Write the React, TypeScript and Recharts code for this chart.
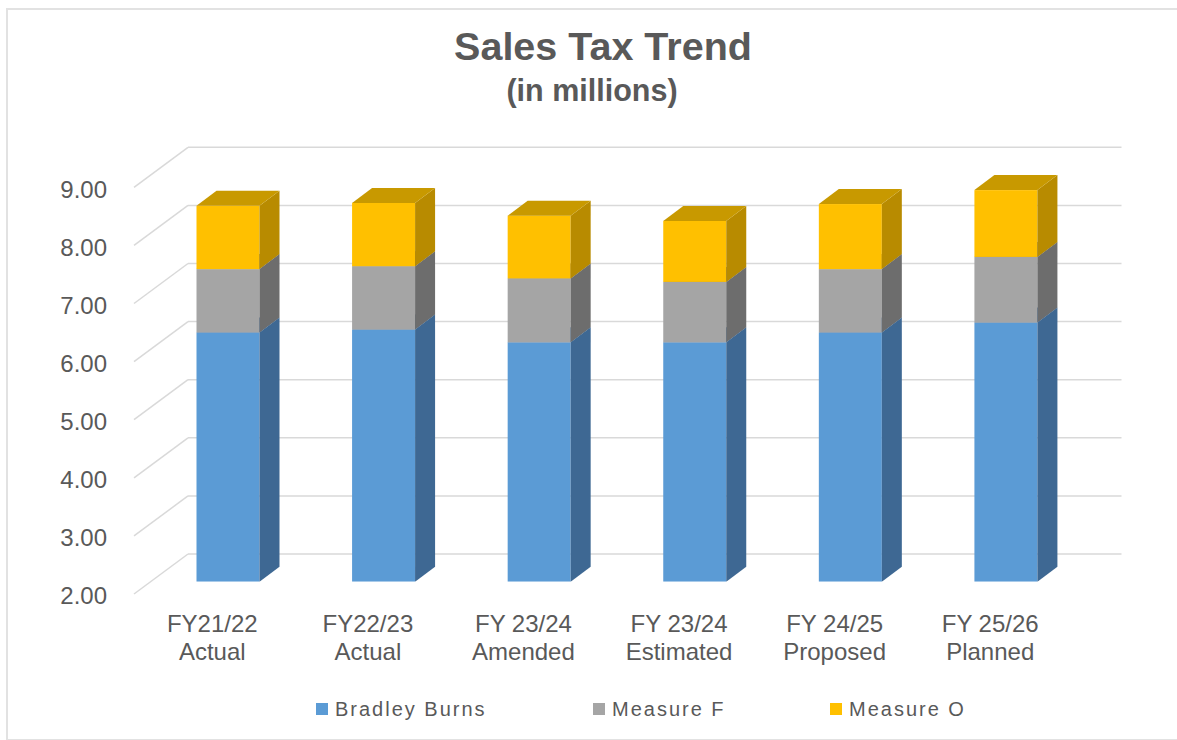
import React from 'react';
import { BarChart, Bar, XAxis, YAxis, CartesianGrid, Legend } from 'recharts';

// values (millions)
const fiscalYears = ['FY21/22', 'FY22/23', 'FY 23/24', 'FY 23/24', 'FY 24/25', 'FY 25/26'];
const stages = ['Actual', 'Actual', 'Amended', 'Estimated', 'Proposed', 'Planned'];
const bradleyBurns = [6.29, 6.34, 6.12, 6.12, 6.29, 6.46];
const measureF = [1.09, 1.09, 1.1, 1.04, 1.09, 1.13];
const measureO = [1.09, 1.09, 1.08, 1.05, 1.12, 1.15];
const yTicks = [2, 3, 4, 5, 6, 7, 8, 9];

const data = fiscalYears.map((fy, i) => ({
  name: fy,
  stage: stages[i],
  bb: bradleyBurns[i],
  mf: measureF[i],
  mo: measureO[i],
}));

const W = 1177;
const H = 740;
const FONT = '"Liberation Sans", Arial, sans-serif';
const TEXT = '#595959';
const GRID = '#D9D9D9';

// bar depth (3d look)
const DX = 20;
const DY = 15;
// floor / back wall offsets relative to the bar front plane
const FRONT = { dx: -16.5, dy: 12.3 };
const BACK = { dx: 37.5, dy: -27.7 };

const Bar3D = (props: any) => {
  const { x, y, width, height, fill, side, top, background } = props;
  if (width == null || height == null) return null;
  const floor = background ? background.y + background.height : y + height;
  const y2 = Math.min(y + height, floor);
  const x2 = x + width;
  return (
    <g>
      <rect x={x} y={y} width={width} height={Math.max(0, y2 - y)} fill={fill} />
      <polygon
        points={`${x2},${y2} ${x2 + DX},${y2 - DY} ${x2 + DX},${y - DY} ${x2},${y}`}
        fill={side}
      />
      <polygon points={`${x},${y} ${x + DX},${y - DY} ${x2 + DX},${y - DY} ${x2},${y}`} fill={top} />
    </g>
  );
};

const gridLine = (p: any) => {
  const { x1, x2, y1 } = p;
  return (
    <g key={p.key}>
      <line x1={x1 + FRONT.dx} y1={y1 + FRONT.dy} x2={x1 + BACK.dx} y2={y1 + BACK.dy} stroke={GRID} strokeWidth={1.5} />
      <line x1={x1 + BACK.dx} y1={y1 + BACK.dy} x2={x2 + BACK.dx} y2={y1 + BACK.dy} stroke={GRID} strokeWidth={1.5} />
    </g>
  );
};

const YTick = (p: any) => {
  const { x, y, payload } = p;
  return (
    <text x={x - 43.5} y={y + 22.5} textAnchor="end" fontFamily={FONT} fontSize={24} fill={TEXT}>
      {Number(payload.value).toFixed(2)}
    </text>
  );
};

const XTick = (p: any) => {
  const { x, y, payload } = p;
  const cx = x - 16;
  return (
    <g>
      <text x={cx} y={y + 50} textAnchor="middle" fontFamily={FONT} fontSize={24} fill={TEXT}>
        {payload.value}
      </text>
      <text x={cx} y={y + 78} textAnchor="middle" fontFamily={FONT} fontSize={24} fill={TEXT}>
        {stages[payload.index]}
      </text>
    </g>
  );
};

const legendWidths = [277, 237, 160];

const LegendContent = (p: any) => {
  const items = p.payload || [];
  return (
    <div style={{ display: 'flex', paddingLeft: 316, height: 24, alignItems: 'center' }}>
      {items.map((it: any, i: number) => (
        <div key={i} style={{ width: legendWidths[i], display: 'flex', alignItems: 'center' }}>
          <span style={{ width: 12, height: 12, background: it.color, marginRight: 7 }} />
          <span style={{ fontFamily: FONT, fontSize: 20, color: TEXT, letterSpacing: 2, lineHeight: '24px' }}>
            {it.value}
          </span>
        </div>
      ))}
    </div>
  );
};

export default function App() {
  return (
    <div style={{ position: 'absolute', left: 0, top: 0, width: W, height: H, overflow: 'hidden', background: '#fff' }}>
      <div
        style={{
          position: 'absolute',
          left: 6,
          top: 8,
          width: 1200,
          height: 729,
          border: '2px solid #E2E2E2',
        }}
      />
      <svg width={W} height={120} style={{ position: 'absolute', left: 0, top: 0 }}>
        <text x={603} y={60} textAnchor="middle" fontFamily={FONT} fontWeight="bold" fontSize={39.5} fill={TEXT}>
          Sales Tax Trend
        </text>
        <text x={592} y={101} textAnchor="middle" fontFamily={FONT} fontWeight="bold" fontSize={30.5} fill={TEXT}>
          (in millions)
        </text>
      </svg>
      <div style={{ position: 'absolute', left: 0, top: 0 }}>
        <BarChart width={W} height={H} data={data} margin={{ top: 175, right: 93, bottom: 0, left: 0 }}>
          <CartesianGrid vertical={false} horizontal={gridLine} />
          <XAxis
            dataKey="name"
            height={158.3}
            tickLine={false}
            axisLine={false}
            tickSize={0}
            tickMargin={0}
            interval={0}
            tick={<XTick />}
          />
          <YAxis
            width={150.5}
            domain={[2, 9]}
            allowDataOverflow
            ticks={yTicks}
            interval={0}
            tickLine={false}
            axisLine={false}
            tickSize={0}
            tickMargin={0}
            tick={<YTick />}
          />
          <Legend
            layout="horizontal"
            verticalAlign="middle"
            align="center"
            wrapperStyle={{ top: 697, left: 0, width: W }}
            content={<LegendContent />}
          />
          <Bar
            dataKey="bb"
            name="Bradley Burns"
            stackId="a"
            fill="#5B9BD5"
            barSize={63}
            isAnimationActive={false}
            shape={(p: any) => <Bar3D {...p} side="#3E6893" top="#4A7DAE" />}
          />
          <Bar
            dataKey="mf"
            name="Measure F"
            stackId="a"
            fill="#A5A5A5"
            barSize={63}
            isAnimationActive={false}
            shape={(p: any) => <Bar3D {...p} side="#6D6D6D" top="#858585" />}
          />
          <Bar
            dataKey="mo"
            name="Measure O"
            stackId="a"
            fill="#FFC000"
            barSize={63}
            isAnimationActive={false}
            shape={(p: any) => <Bar3D {...p} side="#B88B00" top="#C89900" />}
          />
        </BarChart>
      </div>
    </div>
  );
}
